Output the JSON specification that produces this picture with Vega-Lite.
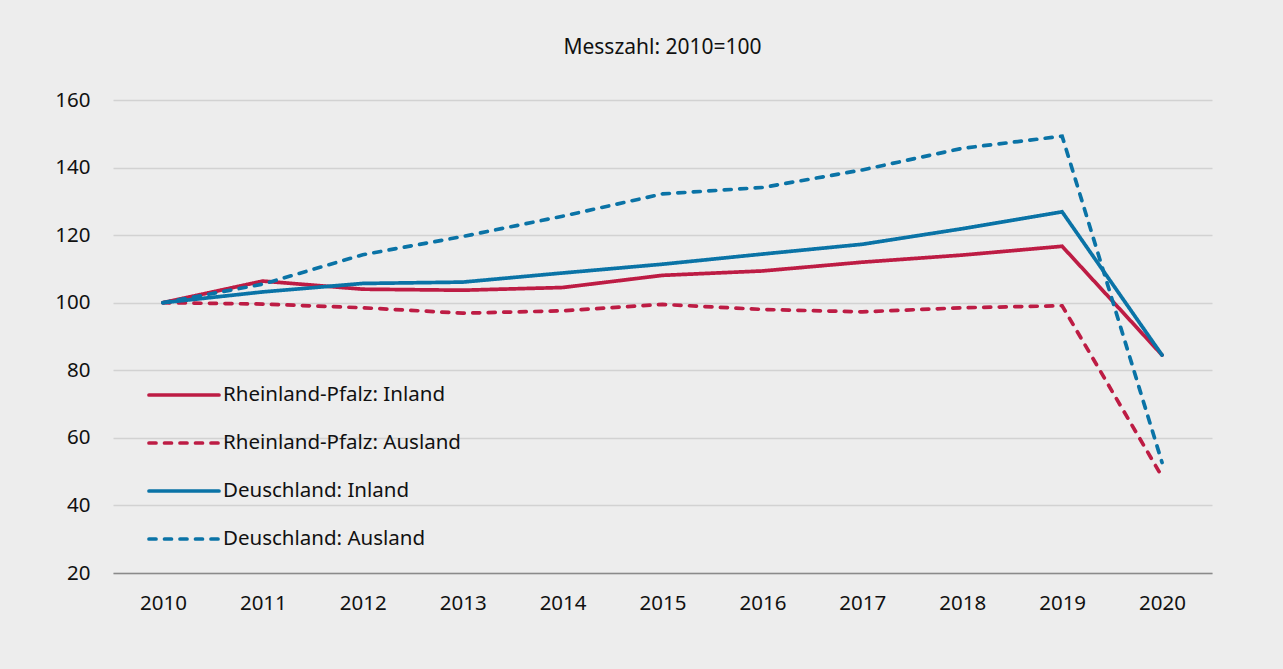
{
  "$schema": "https://vega.github.io/schema/vega-lite/v6.json",
  "autosize": {"type": "none"},
  "width": 1099,
  "height": 473,
  "padding": {"left": 113, "top": 100, "right": 71, "bottom": 96},
  "background": "#ededed",
  "title": {
    "text": "Messzahl: 2010=100",
    "fontSize": 21,
    "font": "Noto Sans",
    "fontWeight": "normal",
    "color": "#111111",
    "anchor": "middle",
    "offset": 32
  },
  "config": {
    "view": {"stroke": null},
    "font": "Noto Sans",
    "axis": {"labelFont": "Noto Sans", "labelColor": "#111111", "labelFontSize": 20.5}
  },
  "data": {
    "values": [
      {"year": "2010", "series": "Rheinland-Pfalz: Inland", "value": 100},
      {"year": "2011", "series": "Rheinland-Pfalz: Inland", "value": 106.4},
      {"year": "2012", "series": "Rheinland-Pfalz: Inland", "value": 104},
      {"year": "2013", "series": "Rheinland-Pfalz: Inland", "value": 103.7},
      {"year": "2014", "series": "Rheinland-Pfalz: Inland", "value": 104.5},
      {"year": "2015", "series": "Rheinland-Pfalz: Inland", "value": 108.1},
      {"year": "2016", "series": "Rheinland-Pfalz: Inland", "value": 109.4},
      {"year": "2017", "series": "Rheinland-Pfalz: Inland", "value": 112},
      {"year": "2018", "series": "Rheinland-Pfalz: Inland", "value": 114.1},
      {"year": "2019", "series": "Rheinland-Pfalz: Inland", "value": 116.7},
      {"year": "2020", "series": "Rheinland-Pfalz: Inland", "value": 84.5},
      {"year": "2010", "series": "Rheinland-Pfalz: Ausland", "value": 100},
      {"year": "2011", "series": "Rheinland-Pfalz: Ausland", "value": 99.6},
      {"year": "2012", "series": "Rheinland-Pfalz: Ausland", "value": 98.5},
      {"year": "2013", "series": "Rheinland-Pfalz: Ausland", "value": 96.9},
      {"year": "2014", "series": "Rheinland-Pfalz: Ausland", "value": 97.6},
      {"year": "2015", "series": "Rheinland-Pfalz: Ausland", "value": 99.5},
      {"year": "2016", "series": "Rheinland-Pfalz: Ausland", "value": 98},
      {"year": "2017", "series": "Rheinland-Pfalz: Ausland", "value": 97.3},
      {"year": "2018", "series": "Rheinland-Pfalz: Ausland", "value": 98.5},
      {"year": "2019", "series": "Rheinland-Pfalz: Ausland", "value": 99.1},
      {"year": "2020", "series": "Rheinland-Pfalz: Ausland", "value": 48.5},
      {"year": "2010", "series": "Deuschland: Inland", "value": 100},
      {"year": "2011", "series": "Deuschland: Inland", "value": 103.2},
      {"year": "2012", "series": "Deuschland: Inland", "value": 105.7},
      {"year": "2013", "series": "Deuschland: Inland", "value": 106.1},
      {"year": "2014", "series": "Deuschland: Inland", "value": 108.8},
      {"year": "2015", "series": "Deuschland: Inland", "value": 111.4},
      {"year": "2016", "series": "Deuschland: Inland", "value": 114.4},
      {"year": "2017", "series": "Deuschland: Inland", "value": 117.3},
      {"year": "2018", "series": "Deuschland: Inland", "value": 121.9},
      {"year": "2019", "series": "Deuschland: Inland", "value": 126.9},
      {"year": "2020", "series": "Deuschland: Inland", "value": 84.5},
      {"year": "2010", "series": "Deuschland: Ausland", "value": 100},
      {"year": "2011", "series": "Deuschland: Ausland", "value": 105.5},
      {"year": "2012", "series": "Deuschland: Ausland", "value": 114.2},
      {"year": "2013", "series": "Deuschland: Ausland", "value": 119.6},
      {"year": "2014", "series": "Deuschland: Ausland", "value": 125.6},
      {"year": "2015", "series": "Deuschland: Ausland", "value": 132.2},
      {"year": "2016", "series": "Deuschland: Ausland", "value": 134.1},
      {"year": "2017", "series": "Deuschland: Ausland", "value": 139.3},
      {"year": "2018", "series": "Deuschland: Ausland", "value": 145.7},
      {"year": "2019", "series": "Deuschland: Ausland", "value": 149.3},
      {"year": "2020", "series": "Deuschland: Ausland", "value": 52.7}
    ]
  },
  "mark": {"type": "line", "strokeWidth": 3.7, "strokeCap": "round"},
  "encoding": {
    "x": {
      "field": "year",
      "type": "ordinal",
      "scale": {"type": "point", "padding": 0.5},
      "axis": {
        "title": null,
        "labelAngle": 0,
        "ticks": false,
        "domainColor": "#8a8a8a",
        "domainWidth": 1.6,
        "labelPadding": 20,
        "grid": false
      }
    },
    "y": {
      "field": "value",
      "type": "quantitative",
      "scale": {"domain": [20, 160], "nice": false, "zero": false},
      "axis": {
        "title": null,
        "values": [20, 40, 60, 80, 100, 120, 140, 160],
        "ticks": false,
        "domain": false,
        "gridColor": "#d2d2d2",
        "gridWidth": 1.3,
        "labelPadding": 23
      }
    },
    "color": {
      "field": "series",
      "type": "nominal",
      "scale": {
        "domain": ["Rheinland-Pfalz: Inland", "Rheinland-Pfalz: Ausland", "Deuschland: Inland", "Deuschland: Ausland"],
        "range": ["#bd1c44", "#bd1c44", "#0a73a6", "#0a73a6"]
      },
      "legend": {
        "title": null,
        "orient": "none",
        "legendX": 34,
        "legendY": 258,
        "padding": 0,
        "symbolType": "stroke",
        "symbolSize": 4900,
        "symbolStrokeWidth": 3.7,
        "labelFontSize": 20.5,
        "labelFont": "Noto Sans",
        "labelColor": "#111111",
        "labelOffset": 2,
        "rowPadding": -1.3,
        "labelLimit": 400,
        "encode": {"symbols": {"update": {"strokeCap": {"value": "round"}}}}
      }
    },
    "strokeDash": {
      "field": "series",
      "type": "nominal",
      "scale": {
        "domain": ["Rheinland-Pfalz: Inland", "Rheinland-Pfalz: Ausland", "Deuschland: Inland", "Deuschland: Ausland"],
        "range": [[1, 0], [7, 8.5], [1, 0], [7, 8.5]]
      }
    }
  }
}
